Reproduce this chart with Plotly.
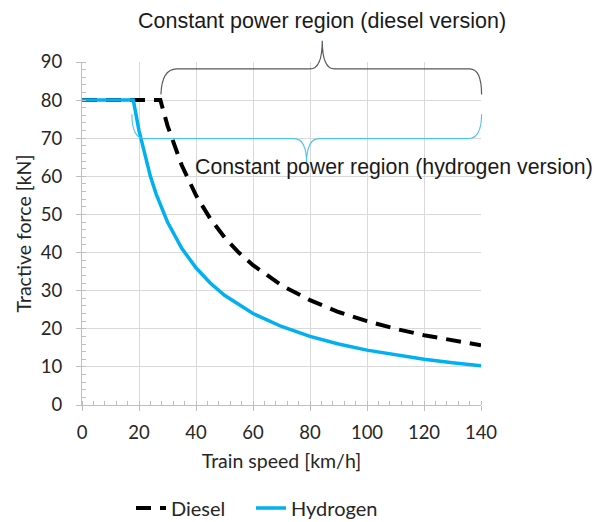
import plotly.graph_objects as go

# Tractive effort curves (train speed in km/h, tractive force in kN)
speed_diesel = [0, 10, 20, 27.5, 30, 32.5, 35, 40, 45, 50, 55, 60, 70, 80, 90, 100, 110, 120, 130, 140]
force_diesel = [80, 80, 80, 80, 73.3, 67.7, 62.9, 55.0, 48.9, 44.0, 40.0, 36.7, 31.4, 27.5, 24.4, 22.0, 20.0, 18.3, 16.9, 15.7]

speed_hydrogen = [0, 10, 18, 20, 22, 24, 26, 28, 30, 35, 40, 45, 50, 60, 70, 80, 90, 100, 110, 120, 130, 140]
force_hydrogen = [80, 80, 80, 72.0, 65.5, 60.0, 55.4, 51.4, 48.0, 41.1, 36.0, 32.0, 28.8, 24.0, 20.6, 18.0, 16.0, 14.4, 13.1, 12.0, 11.1, 10.3]

X_RANGE = (0, 140)
Y_RANGE = (0, 90)

# Plot-area geometry in pixels
W, H = 596, 522
M_L, M_R, M_T, M_B = 82, 115, 62, 117
PLOT_H = H - M_T - M_B

fig = go.Figure()
fig.add_trace(go.Scatter(
    x=speed_diesel, y=force_diesel, mode="lines", name="Diesel",
    line=dict(color="black", width=4, dash="15px,9px"), legend="legend",
))
fig.add_trace(go.Scatter(
    x=speed_hydrogen, y=force_hydrogen, mode="lines", name="Hydrogen",
    line=dict(color="#00b0f0", width=3.5), legend="legend2",
))


def to_paper(v, f):
    px = (v - X_RANGE[0]) / (X_RANGE[1] - X_RANGE[0])
    py = (f - Y_RANGE[0]) / (Y_RANGE[1] - Y_RANGE[0])
    return f"{px:.5f},{py:.5f}"


def brace_path(segs):
    parts = []
    for seg in segs:
        cmd, pts = seg[0], seg[1:]
        parts.append(cmd + " " + " ".join(to_paper(*p) for p in pts))
    return " ".join(parts)


# Curly brace spanning the diesel constant-power region (opens downward)
diesel_brace = brace_path([
    ("M", (27.7, 81.5)),
    ("Q", (28.0, 88.2), (33.3, 88.2)),
    ("L", (80.0, 88.2)),
    ("Q", (84.3, 88.2), (84.3, 95.6)),
    ("Q", (84.3, 88.2), (88.6, 88.2)),
    ("L", (136.0, 88.2)),
    ("Q", (140.2, 88.2), (140.2, 81.5)),
])

# Curly brace spanning the hydrogen constant-power region (opens upward)
hydrogen_brace = brace_path([
    ("M", (17.5, 76.3)),
    ("Q", (17.5, 69.9), (22.1, 69.9)),
    ("L", (74.4, 69.9)),
    ("Q", (78.8, 69.9), (78.8, 63.4)),
    ("Q", (78.8, 69.9), (83.2, 69.9)),
    ("L", (135.4, 69.9)),
    ("Q", (140.2, 69.9), (140.2, 76.3)),
])

fig.add_shape(type="path", path=diesel_brace, xref="paper", yref="paper",
              line=dict(color="#595959", width=1.2), layer="above")
fig.add_shape(type="path", path=hydrogen_brace, xref="paper", yref="paper",
              line=dict(color="#4cc3f0", width=1.1), layer="above")

label_family = "Liberation Sans, Arial, sans-serif"
fig.add_annotation(text="Constant power region (diesel version)",
                   x=(84.3 - X_RANGE[0]) / (X_RANGE[1] - X_RANGE[0]), xref="paper",
                   y=1.0 + 41 / PLOT_H, yref="paper",
                   showarrow=False, font=dict(family=label_family, size=21.5, color="#1a1a1a"),
                   xanchor="center", yanchor="middle")
fig.add_annotation(text="Constant power region (hydrogen version)",
                   x=(193 - M_L) / (W - M_L - M_R), xref="paper",
                   y=(H - M_B - 167) / PLOT_H, yref="paper",
                   showarrow=False, font=dict(family=label_family, size=21.3, color="#1a1a1a"),
                   xanchor="left", yanchor="middle")

tick_font = dict(family="Lato, Carlito, Calibri, sans-serif", size=18.5, color="#262626")
title_font = dict(family="Lato, Carlito, Calibri, sans-serif", size=19.5, color="#262626")
legend_font = dict(family="Lato, Carlito, Calibri, sans-serif", size=20, color="#262626")
common = dict(
    showgrid=True, gridcolor="#d9d9d9", gridwidth=1.3,
    showline=True, linecolor="#bfbfbf", linewidth=1.3,
    ticks="outside", ticklen=5, tickcolor="#bfbfbf", tickwidth=1.3,
    tickfont=tick_font, zeroline=False,
)
fig.update_xaxes(
    range=list(X_RANGE), dtick=20, tick0=0,
    title=dict(text="Train speed [km/h]", font=title_font, standoff=12),
    minor=dict(dtick=4, ticks="inside", ticklen=4, tickcolor="#bfbfbf", tickwidth=1.2, showgrid=False),
    ticklabelstandoff=6,
    **common,
)
fig.update_yaxes(
    range=list(Y_RANGE), dtick=10, tick0=0,
    title=dict(text="Tractive force [kN]", font=title_font, standoff=3),
    minor=dict(dtick=2, ticks="inside", ticklen=4, tickcolor="#bfbfbf", tickwidth=1.2, showgrid=False),
    ticklabelstandoff=10,
    **common,
)

legend_common = dict(orientation="h", xref="container", yref="container",
                     xanchor="left", y=(H - 508) / H, yanchor="middle",
                     font=legend_font, bgcolor="rgba(0,0,0,0)")

fig.update_layout(
    width=W, height=H,
    margin=dict(l=M_L, r=M_R, t=M_T, b=M_B, autoexpand=False),
    paper_bgcolor="white", plot_bgcolor="white",
    showlegend=True,
    legend=dict(x=131 / W, **legend_common),
    legend2=dict(x=251 / W, **legend_common),
)

fig.write_html("out.html")
